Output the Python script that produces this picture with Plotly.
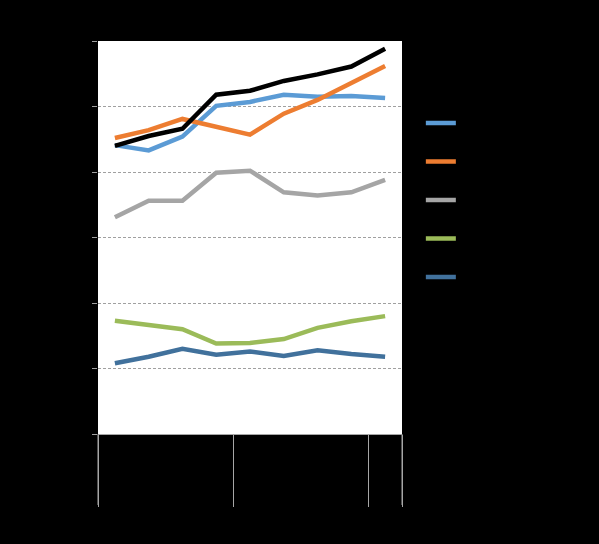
import plotly.graph_objects as go

# x axis: two-level categories (group, period)
groups = ["2016", "2016", "2016", "2016", "2017", "2017", "2017", "2017", "2018"]
periods = ["1st Qtr", "2nd Qtr", "3rd Qtr", "4th Qtr", "1st Qtr", "2nd Qtr", "3rd Qtr", "4th Qtr", "1st Qtr"]

total = [44.0, 45.5, 46.6, 51.8, 52.4, 53.9, 54.9, 56.1, 58.8]
series_a = [44.1, 43.3, 45.4, 50.1, 50.7, 51.8, 51.5, 51.6, 51.3]
series_b = [45.2, 46.4, 48.1, 46.9, 45.7, 48.9, 51.0, 53.6, 56.2]
series_c = [33.1, 35.6, 35.6, 39.9, 40.2, 36.9, 36.4, 36.9, 38.8]
series_d = [17.3, 16.7, 16.0, 13.8, 13.9, 14.5, 16.2, 17.2, 18.0]
series_e = [10.8, 11.8, 13.0, 12.1, 12.6, 11.9, 12.8, 12.2, 11.8]

names = ["Series A", "Series B", "Series C", "Series D", "Series E"]
colors = ["#5B9BD5", "#ED7D31", "#A5A5A5", "#9BBB59", "#41719C"]

fig = go.Figure()
for vals, nm, col in zip([series_a, series_b, series_c, series_d, series_e], names, colors):
    fig.add_trace(go.Scatter(x=[groups, periods], y=vals, name=nm, mode="lines",
                             line=dict(color=col, width=4.5), legendgroup=nm))

# total line, drawn on top
fig.add_trace(go.Scatter(x=[groups, periods], y=total, name="Total", mode="lines",
                         line=dict(color="#000000", width=4.5), showlegend=False))

fig.update_layout(
    width=599, height=544,
    paper_bgcolor="black", plot_bgcolor="white",
    margin=dict(l=98, r=197, t=41, b=110),
    font=dict(family="Liberation Sans, Arial", size=12, color="black"),
    legend=dict(x=1.062, xanchor="left", y=0.828, yanchor="top",
                tracegroupgap=19.5, font=dict(size=12, color="black"),
                bgcolor="rgba(0,0,0,0)"),
)

fig.update_yaxes(range=[0, 60], dtick=10, showgrid=True, gridcolor="#a0a0a0",
                 griddash="3px,2px", gridwidth=1, ticks="outside", ticklen=5,
                 tickcolor="#a0a0a0", showline=False, zeroline=False)
fig.update_xaxes(range=[-0.5, 8.5], showline=True, linecolor="#a6a6a6", linewidth=1,
                 showgrid=False, showdividers=True, dividercolor="#a6a6a6",
                 dividerwidth=1, tickangle=-90, ticks="", tickfont=dict(size=12))

# outer dividers at both ends of the category axis
for xe in [0, 1]:
    fig.add_shape(type="line", xref="x domain", yref="paper", x0=xe, x1=xe,
                  y0=0, y1=-71 / 393, line=dict(color="#a6a6a6", width=1))

fig.write_html("out.html", config={"displayModeBar": False},
               post_script="document.body.style.margin='0';document.body.style.background='black';")
